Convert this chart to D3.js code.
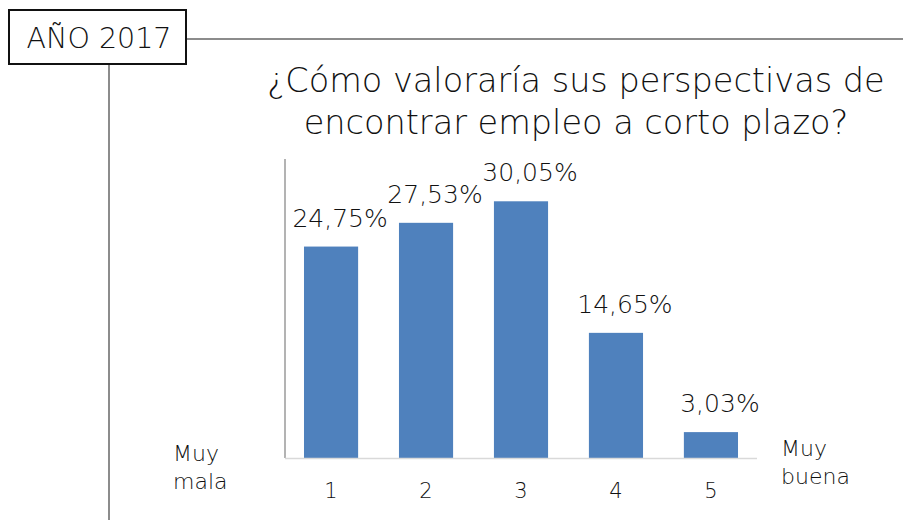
<!DOCTYPE html>
<html lang="es">
<head>
<meta charset="UTF-8">
<title>Año 2017</title>
<script src="https://d3js.org/d3.v7.min.js"></script>
<style>
  body { margin: 0; background: #fff; font-family: 'DejaVu Sans', sans-serif; }
  text { fill: #111; font-family: 'DejaVu Sans', sans-serif; font-weight: 200; }
</style>
</head>
<body>
<script>
  const categories = ["1", "2", "3", "4", "5"];
  const values = [24.75, 27.53, 30.05, 14.65, 3.03];
  const valueLabels = ["24,75%", "27,53%", "30,05%", "14,65%", "3,03%"];
  const titleLines = ["¿Cómo valoraría sus perspectivas de", "encontrar empleo a corto plazo?"];

  const width = 903, height = 520;
  const svg = d3.select("body").append("svg")
    .attr("width", width)
    .attr("height", height);

  // frame: box with year + connector lines
  svg.append("line").attr("x1", 187).attr("x2", width).attr("y1", 39).attr("y2", 39)
    .attr("stroke", "#8c8c8c").attr("stroke-width", 2);
  svg.append("line").attr("x1", 109).attr("x2", 109).attr("y1", 64).attr("y2", height)
    .attr("stroke", "#8c8c8c").attr("stroke-width", 2);
  svg.append("rect").attr("x", 9).attr("y", 10).attr("width", 177).attr("height", 54)
    .attr("fill", "#fff").attr("stroke", "#111").attr("stroke-width", 2);
  svg.append("text").attr("x", 99).attr("y", 48).attr("text-anchor", "middle")
    .style("font-size", "28.5px").text("AÑO 2017");

  svg.selectAll("text.title").data(titleLines).enter().append("text")
    .attr("class", "title")
    .attr("x", 576).attr("y", (d, i) => 92 + i * 42)
    .attr("text-anchor", "middle")
    .style("font-size", "33.5px")
    .text(d => d);

  const x = d3.scaleBand().domain(categories).range([285, 757]).paddingInner(0.43).paddingOuter(0.2);
  const y = d3.scaleLinear().domain([0, 35]).range([458, 159]);

  svg.selectAll("rect.bar").data(values).enter().append("rect")
    .attr("class", "bar")
    .attr("x", (d, i) => x(categories[i]))
    .attr("y", d => y(d))
    .attr("width", x.bandwidth())
    .attr("height", d => y(0) - y(d))
    .attr("fill", "#4f81bd");

  // axes
  svg.append("line").attr("x1", 285).attr("x2", 285).attr("y1", 159).attr("y2", 458)
    .attr("stroke", "#9a9a9a").attr("stroke-width", 1.5);
  svg.append("line").attr("x1", 285).attr("x2", 757).attr("y1", 458.5).attr("y2", 458.5)
    .attr("stroke", "#d9d9d9").attr("stroke-width", 1.5);

  const xAxis = svg.append("g").attr("transform", "translate(0,458)")
    .call(d3.axisBottom(x).tickSize(0).tickPadding(25));
  xAxis.select(".domain").remove();
  xAxis.selectAll("text").style("font-size", "21px")
    .style("font-family", "'DejaVu Sans', sans-serif").style("font-weight", 200).attr("fill", "#111");

  svg.selectAll("text.val").data(values).enter().append("text")
    .attr("class", "val")
    .attr("x", (d, i) => x(categories[i]) + x.bandwidth() / 2 + 9)
    .attr("y", d => y(d) - 20)
    .attr("text-anchor", "middle")
    .style("font-size", "25px")
    .text((d, i) => valueLabels[i]);

  const ends = [
    { x: 173, y: 461, lines: ["Muy", "mala"] },
    { x: 781, y: 456, lines: ["Muy", "buena"] }
  ];
  ends.forEach(e => {
    svg.append("text").attr("x", e.x).attr("y", e.y)
      .style("font-size", "22px")
      .selectAll("tspan").data(e.lines).enter().append("tspan")
      .attr("x", e.x).attr("dy", (d, i) => i ? 28 : 0).text(d => d);
  });
</script>
</body>
</html>
